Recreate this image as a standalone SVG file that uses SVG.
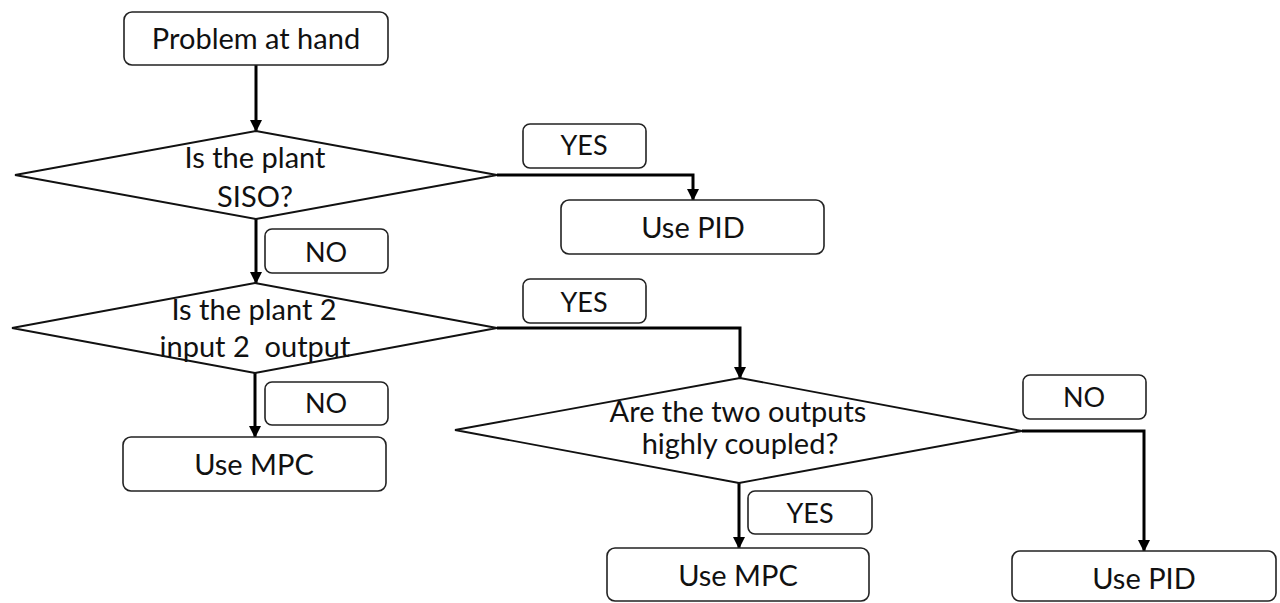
<svg xmlns="http://www.w3.org/2000/svg" width="1280" height="603" viewBox="0 0 1280 603">
<style>
.box{fill:#fff;stroke:#222;stroke-width:1.6}
.dia{fill:#fff;stroke:#111;stroke-width:1.8}
.t{font-family:Lato,"Liberation Sans",sans-serif;font-size:29px;fill:#111;text-anchor:middle}
.l{font-family:Lato,"Liberation Sans",sans-serif;font-size:27px;fill:#111;text-anchor:middle}
.c{fill:none;stroke:#000;stroke-width:3}
</style>
<defs>
<marker id="ah" markerWidth="12" markerHeight="12" refX="11" refY="6" orient="auto" markerUnits="userSpaceOnUse">
<path d="M0,0 L12,6 L0,12 z" fill="#000"/>
</marker>
</defs>
<rect width="1280" height="603" fill="#fff"/>
<g id="connectors">
<path class="c" d="M256,65 V131" marker-end="url(#ah)"/>
<path class="c" d="M497,175 H693 V200" marker-end="url(#ah)"/>
<path class="c" d="M256,219 V283" marker-end="url(#ah)"/>
<path class="c" d="M497,328 H740 V378" marker-end="url(#ah)"/>
<path class="c" d="M255,373 V437" marker-end="url(#ah)"/>
<path class="c" d="M739,483 V548" marker-end="url(#ah)"/>
<path class="c" d="M1022,431 H1144 V551" marker-end="url(#ah)"/>
</g>
<g id="n-problem"><rect class="box" x="124" y="12" width="264" height="53" rx="8"/><text class="t" x="256" y="49">Problem at hand</text></g>
<g id="n-siso"><polygon class="dia" points="15,175 256,131 497,175 256,219"/><text class="t" x="255" y="168">Is the plant</text><text class="t" x="255" y="207">SISO?</text></g>
<g id="l-yes1"><rect class="box" x="523" y="124" width="123" height="44" rx="7"/><text class="l" x="584" y="155">YES</text></g>
<g id="n-pid1"><rect class="box" x="561" y="200" width="263" height="54" rx="8"/><text class="t" x="693" y="238">Use PID</text></g>
<g id="l-no1"><rect class="box" x="265" y="229" width="123" height="44" rx="7"/><text class="l" x="326" y="262">NO</text></g>
<g id="n-2i2o"><polygon class="dia" points="12,328 255,283 497,328 255,373"/><text class="t" x="254" y="320">Is the plant 2</text><text class="t" x="255" y="357" xml:space="preserve">input 2  output</text></g>
<g id="l-no2"><rect class="box" x="265" y="382" width="123" height="43" rx="7"/><text class="l" x="326" y="413">NO</text></g>
<g id="n-mpc1"><rect class="box" x="123" y="437" width="263" height="54" rx="8"/><text class="t" x="254" y="475">Use MPC</text></g>
<g id="l-yes2"><rect class="box" x="523" y="279" width="123" height="44" rx="7"/><text class="l" x="584" y="312">YES</text></g>
<g id="n-coupled"><polygon class="dia" points="455,430 740,378 1022,431 739,483"/><text class="t" x="738" y="422">Are the two outputs</text><text class="t" x="740" y="454">highly coupled?</text></g>
<g id="l-no3"><rect class="box" x="1023" y="375" width="123" height="44" rx="7"/><text class="l" x="1084" y="407">NO</text></g>
<g id="l-yes3"><rect class="box" x="748" y="491" width="124" height="43" rx="7"/><text class="l" x="810" y="523">YES</text></g>
<g id="n-mpc2"><rect class="box" x="607" y="548" width="262" height="53" rx="8"/><text class="t" x="738" y="586">Use MPC</text></g>
<g id="n-pid2"><rect class="box" x="1012" y="551" width="264" height="50" rx="8"/><text class="t" x="1144" y="589">Use PID</text></g>
</svg>
